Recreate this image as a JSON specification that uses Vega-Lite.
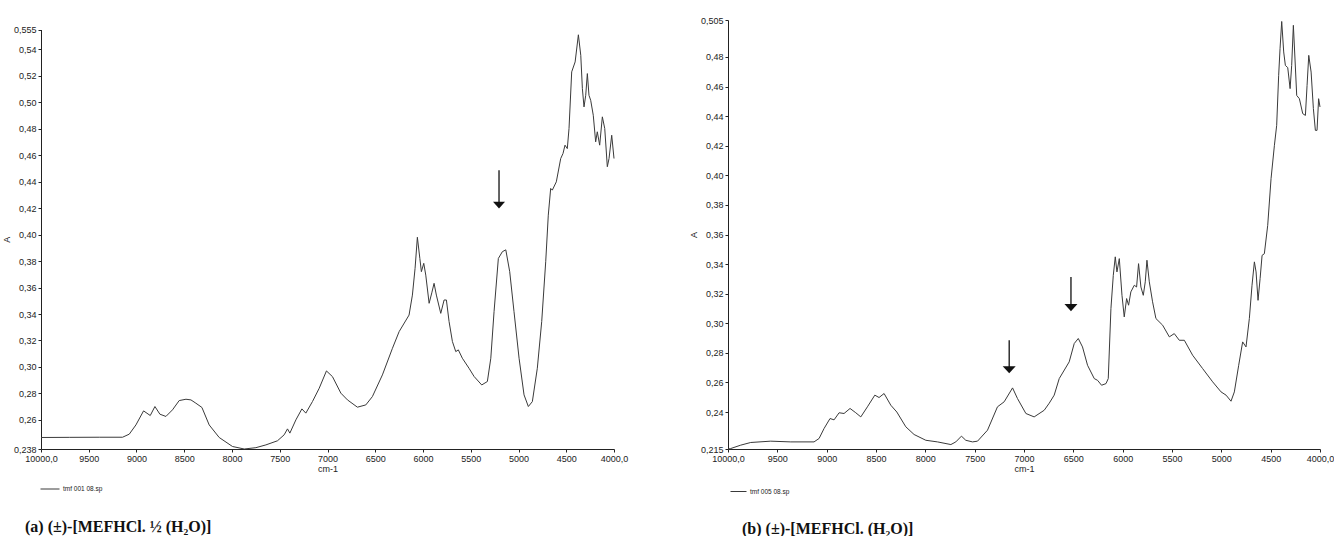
{
  "$schema": "https://vega.github.io/schema/vega-lite/v6.json",
  "background": "white",
  "padding": {"left": 2, "top": 16, "right": 0, "bottom": 0},
  "bounds": "flush",
  "spacing": 114,
  "config": {
    "view": {"stroke": null},
    "axis": {
      "labelFont": "Liberation Sans", "titleFont": "Liberation Sans",
      "labelFontSize": 9, "titleFontSize": 9, "titleFontWeight": "normal",
      "labelColor": "#222", "titleColor": "#222", "domainColor": "#222", "tickColor": "#222",
      "tickSize": 3, "labelPadding": 2, "grid": false, "labelFlush": false, "labelOverlap": false
    },
    "legend": {"padding": 0}
  },
  "resolve": {"scale": {"color": "independent", "y": "independent", "x": "independent"}, "legend": {"color": "independent"}},
  "datasets": {
    "a": [
      {"wn": 10000, "A": 0.2467, "file": "tmf 001 08.sp"},
      {"wn": 9704, "A": 0.2468, "file": "tmf 001 08.sp"},
      {"wn": 9390, "A": 0.2469, "file": "tmf 001 08.sp"},
      {"wn": 9146, "A": 0.2469, "file": "tmf 001 08.sp"},
      {"wn": 9076, "A": 0.2492, "file": "tmf 001 08.sp"},
      {"wn": 9006, "A": 0.2562, "file": "tmf 001 08.sp"},
      {"wn": 8926, "A": 0.2668, "file": "tmf 001 08.sp"},
      {"wn": 8856, "A": 0.2633, "file": "tmf 001 08.sp"},
      {"wn": 8807, "A": 0.2701, "file": "tmf 001 08.sp"},
      {"wn": 8755, "A": 0.2643, "file": "tmf 001 08.sp"},
      {"wn": 8692, "A": 0.2626, "file": "tmf 001 08.sp"},
      {"wn": 8623, "A": 0.2676, "file": "tmf 001 08.sp"},
      {"wn": 8553, "A": 0.2746, "file": "tmf 001 08.sp"},
      {"wn": 8482, "A": 0.2756, "file": "tmf 001 08.sp"},
      {"wn": 8430, "A": 0.2751, "file": "tmf 001 08.sp"},
      {"wn": 8378, "A": 0.2726, "file": "tmf 001 08.sp"},
      {"wn": 8315, "A": 0.2694, "file": "tmf 001 08.sp"},
      {"wn": 8239, "A": 0.2562, "file": "tmf 001 08.sp"},
      {"wn": 8134, "A": 0.2467, "file": "tmf 001 08.sp"},
      {"wn": 7995, "A": 0.2399, "file": "tmf 001 08.sp"},
      {"wn": 7872, "A": 0.2380, "file": "tmf 001 08.sp"},
      {"wn": 7750, "A": 0.2390, "file": "tmf 001 08.sp"},
      {"wn": 7645, "A": 0.2411, "file": "tmf 001 08.sp"},
      {"wn": 7524, "A": 0.2442, "file": "tmf 001 08.sp"},
      {"wn": 7454, "A": 0.2487, "file": "tmf 001 08.sp"},
      {"wn": 7419, "A": 0.2532, "file": "tmf 001 08.sp"},
      {"wn": 7394, "A": 0.2500, "file": "tmf 001 08.sp"},
      {"wn": 7331, "A": 0.2600, "file": "tmf 001 08.sp"},
      {"wn": 7268, "A": 0.2683, "file": "tmf 001 08.sp"},
      {"wn": 7227, "A": 0.2651, "file": "tmf 001 08.sp"},
      {"wn": 7157, "A": 0.2739, "file": "tmf 001 08.sp"},
      {"wn": 7087, "A": 0.2839, "file": "tmf 001 08.sp"},
      {"wn": 7011, "A": 0.2970, "file": "tmf 001 08.sp"},
      {"wn": 6948, "A": 0.2927, "file": "tmf 001 08.sp"},
      {"wn": 6860, "A": 0.2802, "file": "tmf 001 08.sp"},
      {"wn": 6791, "A": 0.2751, "file": "tmf 001 08.sp"},
      {"wn": 6687, "A": 0.2696, "file": "tmf 001 08.sp"},
      {"wn": 6599, "A": 0.2713, "file": "tmf 001 08.sp"},
      {"wn": 6530, "A": 0.2776, "file": "tmf 001 08.sp"},
      {"wn": 6425, "A": 0.2940, "file": "tmf 001 08.sp"},
      {"wn": 6320, "A": 0.3141, "file": "tmf 001 08.sp"},
      {"wn": 6250, "A": 0.3267, "file": "tmf 001 08.sp"},
      {"wn": 6146, "A": 0.3392, "file": "tmf 001 08.sp"},
      {"wn": 6111, "A": 0.3543, "file": "tmf 001 08.sp"},
      {"wn": 6083, "A": 0.3745, "file": "tmf 001 08.sp"},
      {"wn": 6059, "A": 0.3980, "file": "tmf 001 08.sp"},
      {"wn": 6033, "A": 0.3820, "file": "tmf 001 08.sp"},
      {"wn": 6017, "A": 0.3720, "file": "tmf 001 08.sp"},
      {"wn": 5992, "A": 0.3783, "file": "tmf 001 08.sp"},
      {"wn": 5971, "A": 0.3694, "file": "tmf 001 08.sp"},
      {"wn": 5936, "A": 0.3481, "file": "tmf 001 08.sp"},
      {"wn": 5908, "A": 0.3560, "file": "tmf 001 08.sp"},
      {"wn": 5884, "A": 0.3632, "file": "tmf 001 08.sp"},
      {"wn": 5860, "A": 0.3543, "file": "tmf 001 08.sp"},
      {"wn": 5814, "A": 0.3405, "file": "tmf 001 08.sp"},
      {"wn": 5779, "A": 0.3506, "file": "tmf 001 08.sp"},
      {"wn": 5755, "A": 0.3506, "file": "tmf 001 08.sp"},
      {"wn": 5727, "A": 0.3343, "file": "tmf 001 08.sp"},
      {"wn": 5692, "A": 0.3192, "file": "tmf 001 08.sp"},
      {"wn": 5657, "A": 0.3116, "file": "tmf 001 08.sp"},
      {"wn": 5630, "A": 0.3129, "file": "tmf 001 08.sp"},
      {"wn": 5588, "A": 0.3066, "file": "tmf 001 08.sp"},
      {"wn": 5518, "A": 0.2990, "file": "tmf 001 08.sp"},
      {"wn": 5465, "A": 0.2928, "file": "tmf 001 08.sp"},
      {"wn": 5385, "A": 0.2864, "file": "tmf 001 08.sp"},
      {"wn": 5326, "A": 0.2890, "file": "tmf 001 08.sp"},
      {"wn": 5290, "A": 0.3066, "file": "tmf 001 08.sp"},
      {"wn": 5256, "A": 0.3418, "file": "tmf 001 08.sp"},
      {"wn": 5211, "A": 0.3820, "file": "tmf 001 08.sp"},
      {"wn": 5169, "A": 0.3871, "file": "tmf 001 08.sp"},
      {"wn": 5133, "A": 0.3885, "file": "tmf 001 08.sp"},
      {"wn": 5092, "A": 0.3720, "file": "tmf 001 08.sp"},
      {"wn": 5047, "A": 0.3418, "file": "tmf 001 08.sp"},
      {"wn": 4994, "A": 0.3066, "file": "tmf 001 08.sp"},
      {"wn": 4942, "A": 0.2789, "file": "tmf 001 08.sp"},
      {"wn": 4897, "A": 0.2701, "file": "tmf 001 08.sp"},
      {"wn": 4855, "A": 0.2738, "file": "tmf 001 08.sp"},
      {"wn": 4803, "A": 0.2990, "file": "tmf 001 08.sp"},
      {"wn": 4757, "A": 0.3343, "file": "tmf 001 08.sp"},
      {"wn": 4715, "A": 0.3795, "file": "tmf 001 08.sp"},
      {"wn": 4688, "A": 0.4147, "file": "tmf 001 08.sp"},
      {"wn": 4663, "A": 0.4349, "file": "tmf 001 08.sp"},
      {"wn": 4646, "A": 0.4336, "file": "tmf 001 08.sp"},
      {"wn": 4604, "A": 0.4399, "file": "tmf 001 08.sp"},
      {"wn": 4558, "A": 0.4575, "file": "tmf 001 08.sp"},
      {"wn": 4534, "A": 0.4613, "file": "tmf 001 08.sp"},
      {"wn": 4513, "A": 0.4676, "file": "tmf 001 08.sp"},
      {"wn": 4489, "A": 0.4650, "file": "tmf 001 08.sp"},
      {"wn": 4471, "A": 0.4802, "file": "tmf 001 08.sp"},
      {"wn": 4443, "A": 0.5230, "file": "tmf 001 08.sp"},
      {"wn": 4407, "A": 0.5305, "file": "tmf 001 08.sp"},
      {"wn": 4373, "A": 0.5510, "file": "tmf 001 08.sp"},
      {"wn": 4348, "A": 0.5355, "file": "tmf 001 08.sp"},
      {"wn": 4331, "A": 0.5103, "file": "tmf 001 08.sp"},
      {"wn": 4314, "A": 0.4965, "file": "tmf 001 08.sp"},
      {"wn": 4296, "A": 0.5053, "file": "tmf 001 08.sp"},
      {"wn": 4279, "A": 0.5217, "file": "tmf 001 08.sp"},
      {"wn": 4262, "A": 0.5053, "file": "tmf 001 08.sp"},
      {"wn": 4244, "A": 0.5015, "file": "tmf 001 08.sp"},
      {"wn": 4217, "A": 0.4902, "file": "tmf 001 08.sp"},
      {"wn": 4192, "A": 0.4701, "file": "tmf 001 08.sp"},
      {"wn": 4175, "A": 0.4777, "file": "tmf 001 08.sp"},
      {"wn": 4150, "A": 0.4676, "file": "tmf 001 08.sp"},
      {"wn": 4122, "A": 0.4890, "file": "tmf 001 08.sp"},
      {"wn": 4097, "A": 0.4802, "file": "tmf 001 08.sp"},
      {"wn": 4070, "A": 0.4513, "file": "tmf 001 08.sp"},
      {"wn": 4052, "A": 0.4575, "file": "tmf 001 08.sp"},
      {"wn": 4024, "A": 0.4751, "file": "tmf 001 08.sp"},
      {"wn": 4000, "A": 0.4575, "file": "tmf 001 08.sp"}
    ],
    "b": [
      {"wn": 10000, "A": 0.2150, "file": "tmf 005 08.sp"},
      {"wn": 9973, "A": 0.2153, "file": "tmf 005 08.sp"},
      {"wn": 9871, "A": 0.2176, "file": "tmf 005 08.sp"},
      {"wn": 9770, "A": 0.2194, "file": "tmf 005 08.sp"},
      {"wn": 9567, "A": 0.2203, "file": "tmf 005 08.sp"},
      {"wn": 9364, "A": 0.2198, "file": "tmf 005 08.sp"},
      {"wn": 9128, "A": 0.2198, "file": "tmf 005 08.sp"},
      {"wn": 9077, "A": 0.2221, "file": "tmf 005 08.sp"},
      {"wn": 9026, "A": 0.2289, "file": "tmf 005 08.sp"},
      {"wn": 8966, "A": 0.2356, "file": "tmf 005 08.sp"},
      {"wn": 8925, "A": 0.2347, "file": "tmf 005 08.sp"},
      {"wn": 8874, "A": 0.2395, "file": "tmf 005 08.sp"},
      {"wn": 8824, "A": 0.2390, "file": "tmf 005 08.sp"},
      {"wn": 8763, "A": 0.2424, "file": "tmf 005 08.sp"},
      {"wn": 8705, "A": 0.2395, "file": "tmf 005 08.sp"},
      {"wn": 8654, "A": 0.2367, "file": "tmf 005 08.sp"},
      {"wn": 8587, "A": 0.2435, "file": "tmf 005 08.sp"},
      {"wn": 8512, "A": 0.2514, "file": "tmf 005 08.sp"},
      {"wn": 8469, "A": 0.2498, "file": "tmf 005 08.sp"},
      {"wn": 8418, "A": 0.2525, "file": "tmf 005 08.sp"},
      {"wn": 8350, "A": 0.2446, "file": "tmf 005 08.sp"},
      {"wn": 8289, "A": 0.2400, "file": "tmf 005 08.sp"},
      {"wn": 8198, "A": 0.2300, "file": "tmf 005 08.sp"},
      {"wn": 8114, "A": 0.2248, "file": "tmf 005 08.sp"},
      {"wn": 7995, "A": 0.2209, "file": "tmf 005 08.sp"},
      {"wn": 7877, "A": 0.2198, "file": "tmf 005 08.sp"},
      {"wn": 7741, "A": 0.2180, "file": "tmf 005 08.sp"},
      {"wn": 7691, "A": 0.2198, "file": "tmf 005 08.sp"},
      {"wn": 7634, "A": 0.2237, "file": "tmf 005 08.sp"},
      {"wn": 7590, "A": 0.2209, "file": "tmf 005 08.sp"},
      {"wn": 7522, "A": 0.2198, "file": "tmf 005 08.sp"},
      {"wn": 7471, "A": 0.2203, "file": "tmf 005 08.sp"},
      {"wn": 7370, "A": 0.2277, "file": "tmf 005 08.sp"},
      {"wn": 7269, "A": 0.2435, "file": "tmf 005 08.sp"},
      {"wn": 7201, "A": 0.2469, "file": "tmf 005 08.sp"},
      {"wn": 7116, "A": 0.2563, "file": "tmf 005 08.sp"},
      {"wn": 7066, "A": 0.2491, "file": "tmf 005 08.sp"},
      {"wn": 6981, "A": 0.2390, "file": "tmf 005 08.sp"},
      {"wn": 6897, "A": 0.2367, "file": "tmf 005 08.sp"},
      {"wn": 6795, "A": 0.2412, "file": "tmf 005 08.sp"},
      {"wn": 6744, "A": 0.2460, "file": "tmf 005 08.sp"},
      {"wn": 6694, "A": 0.2514, "file": "tmf 005 08.sp"},
      {"wn": 6643, "A": 0.2626, "file": "tmf 005 08.sp"},
      {"wn": 6542, "A": 0.2739, "file": "tmf 005 08.sp"},
      {"wn": 6491, "A": 0.2863, "file": "tmf 005 08.sp"},
      {"wn": 6450, "A": 0.2897, "file": "tmf 005 08.sp"},
      {"wn": 6407, "A": 0.2840, "file": "tmf 005 08.sp"},
      {"wn": 6356, "A": 0.2716, "file": "tmf 005 08.sp"},
      {"wn": 6288, "A": 0.2626, "file": "tmf 005 08.sp"},
      {"wn": 6254, "A": 0.2614, "file": "tmf 005 08.sp"},
      {"wn": 6214, "A": 0.2581, "file": "tmf 005 08.sp"},
      {"wn": 6169, "A": 0.2592, "file": "tmf 005 08.sp"},
      {"wn": 6146, "A": 0.2626, "file": "tmf 005 08.sp"},
      {"wn": 6119, "A": 0.3099, "file": "tmf 005 08.sp"},
      {"wn": 6095, "A": 0.3324, "file": "tmf 005 08.sp"},
      {"wn": 6075, "A": 0.3449, "file": "tmf 005 08.sp"},
      {"wn": 6058, "A": 0.3347, "file": "tmf 005 08.sp"},
      {"wn": 6034, "A": 0.3437, "file": "tmf 005 08.sp"},
      {"wn": 6007, "A": 0.3189, "file": "tmf 005 08.sp"},
      {"wn": 5984, "A": 0.3043, "file": "tmf 005 08.sp"},
      {"wn": 5960, "A": 0.3167, "file": "tmf 005 08.sp"},
      {"wn": 5940, "A": 0.3122, "file": "tmf 005 08.sp"},
      {"wn": 5917, "A": 0.3212, "file": "tmf 005 08.sp"},
      {"wn": 5882, "A": 0.3257, "file": "tmf 005 08.sp"},
      {"wn": 5859, "A": 0.3245, "file": "tmf 005 08.sp"},
      {"wn": 5839, "A": 0.3403, "file": "tmf 005 08.sp"},
      {"wn": 5815, "A": 0.3245, "file": "tmf 005 08.sp"},
      {"wn": 5791, "A": 0.3189, "file": "tmf 005 08.sp"},
      {"wn": 5771, "A": 0.3280, "file": "tmf 005 08.sp"},
      {"wn": 5754, "A": 0.3426, "file": "tmf 005 08.sp"},
      {"wn": 5730, "A": 0.3280, "file": "tmf 005 08.sp"},
      {"wn": 5697, "A": 0.3145, "file": "tmf 005 08.sp"},
      {"wn": 5663, "A": 0.3032, "file": "tmf 005 08.sp"},
      {"wn": 5595, "A": 0.2987, "file": "tmf 005 08.sp"},
      {"wn": 5527, "A": 0.2908, "file": "tmf 005 08.sp"},
      {"wn": 5477, "A": 0.2930, "file": "tmf 005 08.sp"},
      {"wn": 5426, "A": 0.2885, "file": "tmf 005 08.sp"},
      {"wn": 5375, "A": 0.2885, "file": "tmf 005 08.sp"},
      {"wn": 5291, "A": 0.2784, "file": "tmf 005 08.sp"},
      {"wn": 5190, "A": 0.2694, "file": "tmf 005 08.sp"},
      {"wn": 5088, "A": 0.2604, "file": "tmf 005 08.sp"},
      {"wn": 5003, "A": 0.2536, "file": "tmf 005 08.sp"},
      {"wn": 4952, "A": 0.2514, "file": "tmf 005 08.sp"},
      {"wn": 4902, "A": 0.2473, "file": "tmf 005 08.sp"},
      {"wn": 4868, "A": 0.2536, "file": "tmf 005 08.sp"},
      {"wn": 4824, "A": 0.2716, "file": "tmf 005 08.sp"},
      {"wn": 4784, "A": 0.2874, "file": "tmf 005 08.sp"},
      {"wn": 4750, "A": 0.2840, "file": "tmf 005 08.sp"},
      {"wn": 4716, "A": 0.3032, "file": "tmf 005 08.sp"},
      {"wn": 4689, "A": 0.3257, "file": "tmf 005 08.sp"},
      {"wn": 4665, "A": 0.3415, "file": "tmf 005 08.sp"},
      {"wn": 4648, "A": 0.3347, "file": "tmf 005 08.sp"},
      {"wn": 4628, "A": 0.3155, "file": "tmf 005 08.sp"},
      {"wn": 4607, "A": 0.3302, "file": "tmf 005 08.sp"},
      {"wn": 4587, "A": 0.3459, "file": "tmf 005 08.sp"},
      {"wn": 4564, "A": 0.3470, "file": "tmf 005 08.sp"},
      {"wn": 4530, "A": 0.3662, "file": "tmf 005 08.sp"},
      {"wn": 4496, "A": 0.3978, "file": "tmf 005 08.sp"},
      {"wn": 4462, "A": 0.4203, "file": "tmf 005 08.sp"},
      {"wn": 4439, "A": 0.4338, "file": "tmf 005 08.sp"},
      {"wn": 4419, "A": 0.4676, "file": "tmf 005 08.sp"},
      {"wn": 4405, "A": 0.4856, "file": "tmf 005 08.sp"},
      {"wn": 4388, "A": 0.5040, "file": "tmf 005 08.sp"},
      {"wn": 4368, "A": 0.4834, "file": "tmf 005 08.sp"},
      {"wn": 4351, "A": 0.4743, "file": "tmf 005 08.sp"},
      {"wn": 4327, "A": 0.4728, "file": "tmf 005 08.sp"},
      {"wn": 4303, "A": 0.4586, "file": "tmf 005 08.sp"},
      {"wn": 4287, "A": 0.4743, "file": "tmf 005 08.sp"},
      {"wn": 4270, "A": 0.5014, "file": "tmf 005 08.sp"},
      {"wn": 4252, "A": 0.4766, "file": "tmf 005 08.sp"},
      {"wn": 4236, "A": 0.4540, "file": "tmf 005 08.sp"},
      {"wn": 4209, "A": 0.4518, "file": "tmf 005 08.sp"},
      {"wn": 4175, "A": 0.4417, "file": "tmf 005 08.sp"},
      {"wn": 4148, "A": 0.4405, "file": "tmf 005 08.sp"},
      {"wn": 4131, "A": 0.4608, "file": "tmf 005 08.sp"},
      {"wn": 4114, "A": 0.4811, "file": "tmf 005 08.sp"},
      {"wn": 4090, "A": 0.4698, "file": "tmf 005 08.sp"},
      {"wn": 4067, "A": 0.4451, "file": "tmf 005 08.sp"},
      {"wn": 4047, "A": 0.4304, "file": "tmf 005 08.sp"},
      {"wn": 4030, "A": 0.4304, "file": "tmf 005 08.sp"},
      {"wn": 4014, "A": 0.4518, "file": "tmf 005 08.sp"},
      {"wn": 4000, "A": 0.4462, "file": "tmf 005 08.sp"}
    ],
    "arrA": [
      {"wn": 5204, "top": 0.4487, "head": 0.4223}
    ],
    "arrB": [
      {"wn": 7150, "top": 0.2885, "head": 0.2686},
      {"wn": 6524, "top": 0.3313, "head": 0.3106}
    ]
  },
  "hconcat": [
    {
      "width": 573,
      "height": 429,
      "title": {
        "text": "(a) (±)-[MEFHCl. ½ (H₂O)]",
        "orient": "bottom", "anchor": "start", "frame": "group",
        "dx": -16, "offset": 26,
        "font": "Liberation Serif", "fontSize": 16, "fontWeight": "bold", "color": "#111"
      },
      "layer": [
        {
          "data": {"name": "a"},
          "mark": {"type": "line", "strokeWidth": 1, "interpolate": "linear"},
          "encoding": {
            "x": {
              "field": "wn", "type": "quantitative", "title": "cm-1",
              "scale": {"domain": [4000, 10000], "reverse": true, "nice": false, "zero": false},
              "axis": {
                "values": [10000, 9500, 9000, 8500, 8000, 7500, 7000, 6500, 6000, 5500, 5000, 4500, 4000],
                "tickCount": 20,
                "labelExpr": "datum.value == 10000 || datum.value == 4000 ? format(datum.value, '.0f') + ',0' : format(datum.value, '.0f')",
                "labelOverlap": false,
                "titlePadding": 1
              }
            },
            "y": {
              "field": "A", "type": "quantitative", "title": "A",
              "scale": {"domain": [0.238, 0.555], "range": [429, 9.5], "nice": false, "zero": false},
              "axis": {
                "values": [0.238, 0.26, 0.28, 0.30, 0.32, 0.34, 0.36, 0.38, 0.40, 0.42, 0.44, 0.46, 0.48, 0.50, 0.52, 0.54, 0.555],
                "tickCount": 30,
                "labelExpr": "replace(format(datum.value, (datum.value < 0.25 || datum.value > 0.545) ? '.3f' : '.2f'), '.', ',')",
                "labelOverlap": false,
                "titlePadding": 2
              }
            },
            "color": {
              "field": "file", "type": "nominal",
              "scale": {"range": ["#3a3a3a"]},
              "legend": {
                "title": null, "orient": "none", "legendX": -1, "legendY": 459,
                "symbolType": "stroke", "symbolSize": 361, "symbolStrokeWidth": 1,
                "labelFont": "Liberation Sans", "labelFontSize": 6.5, "labelColor": "#222", "labelOffset": 3
              }
            }
          }
        },
        {
          "data": {"name": "arrA"},
          "mark": {"type": "rule", "color": "#111", "strokeWidth": 1.3},
          "encoding": {
            "x": {"field": "wn", "type": "quantitative"},
            "y": {"field": "top", "type": "quantitative"},
            "y2": {"field": "head"}
          }
        },
        {
          "data": {"name": "arrA"},
          "mark": {"type": "point", "filled": true, "color": "#111", "opacity": 1, "size": 144, "shape": "M-1,-0.55L1,-0.55L0,0.55Z"},
          "encoding": {
            "x": {"field": "wn", "type": "quantitative"},
            "y": {"field": "head", "type": "quantitative"}
          }
        }
      ]
    },
    {
      "width": 592,
      "height": 429,
      "title": {
        "text": "(b) (±)-[MEFHCl. (H₂O)]",
        "orient": "bottom", "anchor": "start", "frame": "group",
        "dx": 14, "offset": 26,
        "font": "Liberation Serif", "fontSize": 16, "fontWeight": "bold", "color": "#111"
      },
      "layer": [
        {
          "data": {"name": "b"},
          "mark": {"type": "line", "strokeWidth": 1, "interpolate": "linear"},
          "encoding": {
            "x": {
              "field": "wn", "type": "quantitative", "title": "cm-1",
              "scale": {"domain": [4000, 10000], "reverse": true, "nice": false, "zero": false},
              "axis": {
                "values": [10000, 9500, 9000, 8500, 8000, 7500, 7000, 6500, 6000, 5500, 5000, 4500, 4000],
                "tickCount": 20,
                "labelExpr": "datum.value == 10000 || datum.value == 4000 ? format(datum.value, '.0f') + ',0' : format(datum.value, '.0f')",
                "labelOverlap": false,
                "titlePadding": 1
              }
            },
            "y": {
              "field": "A", "type": "quantitative", "title": "A",
              "scale": {"domain": [0.215, 0.505], "nice": false, "zero": false},
              "axis": {
                "values": [0.215, 0.24, 0.26, 0.28, 0.30, 0.32, 0.34, 0.36, 0.38, 0.40, 0.42, 0.44, 0.46, 0.48, 0.505],
                "tickCount": 30,
                "labelExpr": "replace(format(datum.value, (datum.value < 0.23 || datum.value > 0.5) ? '.3f' : '.2f'), '.', ',')",
                "labelOverlap": false,
                "titlePadding": 2
              }
            },
            "color": {
              "field": "file", "type": "nominal",
              "scale": {"range": ["#3a3a3a"]},
              "legend": {
                "title": null, "orient": "none", "legendX": 2, "legendY": 463,
                "symbolType": "stroke", "symbolSize": 256, "symbolStrokeWidth": 1,
                "labelFont": "Liberation Sans", "labelFontSize": 6.5, "labelColor": "#222", "labelOffset": 3
              }
            }
          }
        },
        {
          "data": {"name": "arrB"},
          "mark": {"type": "rule", "color": "#111", "strokeWidth": 1.3},
          "encoding": {
            "x": {"field": "wn", "type": "quantitative"},
            "y": {"field": "top", "type": "quantitative"},
            "y2": {"field": "head"}
          }
        },
        {
          "data": {"name": "arrB"},
          "mark": {"type": "point", "filled": true, "color": "#111", "opacity": 1, "size": 169, "shape": "M-1,-0.55L1,-0.55L0,0.55Z"},
          "encoding": {
            "x": {"field": "wn", "type": "quantitative"},
            "y": {"field": "head", "type": "quantitative"}
          }
        }
      ]
    }
  ]
}
